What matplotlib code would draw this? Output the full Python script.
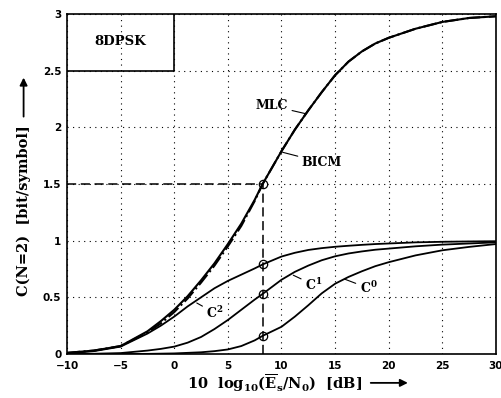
import matplotlib
matplotlib.use("Agg")
import matplotlib.pyplot as plt
from matplotlib.patches import FancyArrowPatch

plt.rcParams['mathtext.fontset'] = 'custom'
plt.rcParams['mathtext.rm'] = 'DejaVu Serif:bold'
plt.rcParams['mathtext.it'] = 'DejaVu Serif:italic:bold'
plt.rcParams['mathtext.bf'] = 'DejaVu Serif:bold'

snr = [-10, -7.5, -5, -2.5, -1.25, 0, 1.25, 2.5, 3.75, 5, 6.25, 7.5, 8.24,
       10, 11.25, 12.5, 13.75, 15, 16.25, 17.5, 18.75, 20, 22.5, 25, 27.5, 30]
mlc = [0.01, 0.03, 0.07, 0.20, 0.29, 0.39, 0.51, 0.65, 0.80, 0.97, 1.15, 1.36, 1.5,
       1.79, 1.98, 2.15, 2.31, 2.46, 2.58, 2.67, 2.74, 2.79, 2.87, 2.93, 2.965, 2.98]
bicm = [0.01, 0.03, 0.07, 0.19, 0.27, 0.37, 0.49, 0.63, 0.78, 0.95, 1.13, 1.35, 1.5,
        1.79, 1.98, 2.15, 2.31, 2.46, 2.58, 2.67, 2.74, 2.79, 2.87, 2.93, 2.965, 2.98]
c2 = [0.005, 0.025, 0.065, 0.18, 0.25, 0.33, 0.42, 0.50, 0.58, 0.645, 0.70, 0.755, 0.79,
      0.86, 0.893, 0.918, 0.934, 0.946, 0.955, 0.963, 0.97, 0.975, 0.985, 0.99, 0.993, 0.995]
c1 = [0.0, 0.002, 0.008, 0.03, 0.045, 0.065, 0.10, 0.15, 0.22, 0.30, 0.39, 0.48, 0.53,
      0.655, 0.725, 0.78, 0.827, 0.862, 0.887, 0.905, 0.92, 0.93, 0.95, 0.965, 0.975, 0.985]
c0 = [0.0, 0.0, 0.0, 0.001, 0.003, 0.005, 0.01, 0.015, 0.025, 0.04, 0.07, 0.12, 0.16,
      0.24, 0.33, 0.43, 0.535, 0.62, 0.68, 0.73, 0.775, 0.81, 0.87, 0.915, 0.945, 0.97]

op_snr = 8.24
op_pts = [1.5, 0.79, 0.53, 0.16]

fig = plt.figure(figsize=(5.02, 3.98), dpi=100)
ax = fig.add_axes([0.1335, 0.1106, 0.8545, 0.8542])

ax.plot(snr, mlc, color='black', lw=1.5)
ax.plot(snr, bicm, color='black', lw=1.5, ls='-.')
ax.plot(snr, c2, color='black', lw=1.3)
ax.plot(snr, c1, color='black', lw=1.3)
ax.plot(snr, c0, color='black', lw=1.3)

# operating point
ax.plot([-10, op_snr], [1.5, 1.5], color='black', lw=1.1, ls=(0, (6, 3)))
ax.plot([op_snr, op_snr], [0, 1.5], color='black', lw=1.1, ls=(0, (6, 3)))
ax.plot([op_snr] * len(op_pts), op_pts, 'o', mfc='none', mec='black', ms=6, mew=0.9)

# label box
ax.plot([-10, 0, 0], [2.5, 2.5, 3], color='black', lw=1.2)
ax.text(-5, 2.76, '8DPSK', ha='center', va='center', fontsize=9.5,
        family='DejaVu Serif', fontweight='bold')

ax.set_xlim(-10, 30)
ax.set_ylim(0, 3)
ax.set_xticks(range(-10, 31, 5))
ax.set_yticks([0, 0.5, 1, 1.5, 2, 2.5, 3])
ax.set_yticklabels(['0', '0.5', '1', '1.5', '2', '2.5', '3'])
ax.grid(True, color='black', ls=(0, (1, 4)), lw=0.8)
ax.tick_params(length=0, labelsize=7.5)
ax.tick_params(axis='x', pad=5)
ax.tick_params(axis='y', pad=4)
for lab in ax.get_xticklabels() + ax.get_yticklabels():
    lab.set_fontweight('bold')
for s in ax.spines.values():
    s.set_linewidth(1.2)

lbl = dict(fontsize=9, family='DejaVu Serif', fontweight='bold')
line = dict(arrowstyle='-', lw=0.8, shrinkA=1, shrinkB=0)
ax.annotate('MLC', xy=(12.27, 2.12), xytext=(10.6, 2.19), ha='right', va='center',
            arrowprops=line, **lbl)
ax.annotate('BICM', xy=(10.1, 1.78), xytext=(11.9, 1.69), ha='left', va='center',
            arrowprops=line, **lbl)
ax.annotate('C$^{2}$', xy=(2.1, 0.45), xytext=(3.0, 0.36), ha='left', va='center',
            arrowprops=line, **lbl)
ax.annotate('C$^{1}$', xy=(11.1, 0.695), xytext=(12.2, 0.61), ha='left', va='center',
            arrowprops=line, **lbl)
ax.annotate('C$^{0}$', xy=(15.9, 0.66), xytext=(17.3, 0.58), ha='left', va='center',
            arrowprops=line, **lbl)

fig.text(0.547, 0.038, r'10  log$_{10}$($\overline{\mathrm{E}}_{\mathrm{s}}$/N$_0$)  [dB]',
         ha='center', va='center', fontsize=10.5, family='DejaVu Serif', fontweight='bold')
fig.text(0.047, 0.47, 'C(N=2)  [bit/symbol]', ha='center', va='center', rotation=90,
         fontsize=10.5, family='DejaVu Serif', fontweight='bold')
fig.add_artist(FancyArrowPatch((0.733, 0.038), (0.818, 0.038), transform=fig.transFigure,
                               arrowstyle='-|>', mutation_scale=11, lw=1.3, color='black'))
fig.add_artist(FancyArrowPatch((0.047, 0.70), (0.047, 0.812), transform=fig.transFigure,
                               arrowstyle='-|>', mutation_scale=11, lw=1.3, color='black'))

fig.savefig('out.png', dpi=100)
